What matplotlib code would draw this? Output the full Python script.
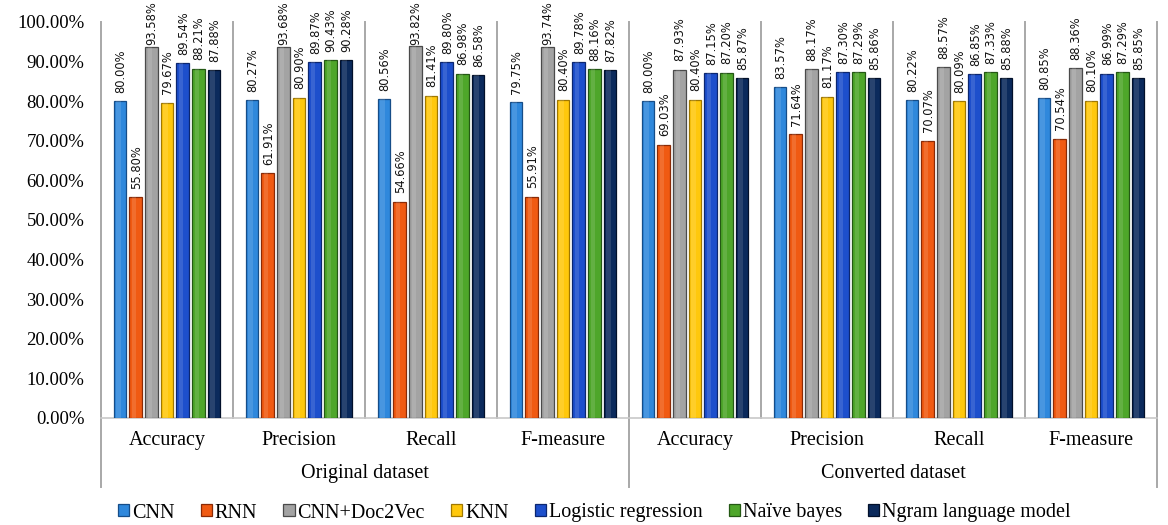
import matplotlib
matplotlib.use("Agg")
import matplotlib.pyplot as plt
import numpy as np

# ---- data ----
datasets = ["Original dataset", "Converted dataset"]
metrics = ["Accuracy", "Precision", "Recall", "F-measure"]
models = ["CNN", "RNN", "CNN+Doc2Vec", "KNN", "Logistic regression",
          "Naïve bayes", "Ngram language model"]

cnn      = [80.00, 80.27, 80.56, 79.75, 80.00, 83.57, 80.22, 80.85]
rnn      = [55.80, 61.91, 54.66, 55.91, 69.03, 71.64, 70.07, 70.54]
cnn_d2v  = [93.58, 93.68, 93.82, 93.74, 87.93, 88.17, 88.57, 88.36]
knn      = [79.67, 80.90, 81.41, 80.40, 80.40, 81.17, 80.09, 80.10]
logreg   = [89.54, 89.87, 89.80, 89.78, 87.15, 87.30, 86.85, 86.99]
nbayes   = [88.21, 90.43, 86.98, 88.16, 87.20, 87.29, 87.33, 87.29]
ngram    = [87.88, 90.28, 86.58, 87.82, 85.87, 85.86, 85.88, 85.85]

series = [cnn, rnn, cnn_d2v, knn, logreg, nbayes, ngram]
colors = ["#2f88dc", "#f05a12", "#a3a3a3", "#ffc80c", "#1d4fcc", "#4ea62a", "#0b2a5c"]
edges  = ["#164d88", "#8a2a05", "#4a4a4a", "#a07800", "#0c2770", "#245814", "#02102a"]

serif = "Liberation Serif"

fig = plt.figure(figsize=(11.68, 5.25), dpi=100)
ax = fig.add_axes([101 / 1168, 1 - 418 / 525, 1056 / 1168, 396 / 525])

n_groups = len(datasets) * len(metrics)
group_centers = np.arange(n_groups) + 0.5
step = 0.119
width = 0.096

annots = []
for j, (vals, c, ec) in enumerate(zip(series, colors, edges)):
    xs = group_centers + (j - 3) * step
    v = np.array(vals) / 100.0
    ax.bar(xs, v, width=width, color=c, edgecolor=ec, linewidth=0.9, zorder=3,
           label=models[j])
    # subtle highlight to mimic the glossy look
    ax.bar(xs - width * 0.12, v, width=width * 0.35, color="white", alpha=0.12,
           linewidth=0, zorder=4)
    for x, val in zip(xs, vals):
        a = ax.annotate(f"{val:.2f}%", xy=(x, val / 100.0), xytext=(0.5, 6),
                        textcoords="offset points", rotation=90, ha="center",
                        va="bottom", fontsize=8.3, family="DejaVu Sans",
                        color="#111111", annotation_clip=False)
        annots.append(a)

ax.set_xlim(0, n_groups)
ax.set_ylim(0, 1.0)
yt = np.arange(0, 1.01, 0.1)
ax.set_yticks(yt)
ax.set_yticklabels([f"{t * 100:.2f}%" for t in yt], family=serif, fontsize=13.5)
ax.tick_params(axis="y", length=0, pad=12)
ax.set_xticks([])
for s in ax.spines.values():
    s.set_visible(False)

line_c = "#a8a8a8"
# baseline
ax.plot([0, n_groups], [0, 0], color="#c8c8c8", lw=1.2, zorder=2, clip_on=False)
# separators
for k in range(n_groups + 1):
    bottom = -0.174 if k % len(metrics) == 0 else 0.0
    ax.plot([k, k], [1.0, bottom], color=line_c, lw=1.4, zorder=1, clip_on=False)

# category labels
for i, xc in enumerate(group_centers):
    ax.text(xc, -0.056, metrics[i % len(metrics)], ha="center", va="center",
            family=serif, fontsize=14.5, transform=ax.get_xaxis_transform())
for d, name in enumerate(datasets):
    ax.text(d * len(metrics) + len(metrics) / 2, -0.14, name, ha="center",
            va="center", family=serif, fontsize=14.5,
            transform=ax.get_xaxis_transform())

handles, labels = ax.get_legend_handles_labels()
leg = fig.legend(handles, labels, loc="center", bbox_to_anchor=(0.509, 1 - 513 / 525),
                 ncol=7, frameon=False, prop={"family": serif, "size": 14.5},
                 handlelength=0.55, handleheight=0.55, handletextpad=0.15,
                 columnspacing=1.3, borderaxespad=0)

# keep value labels inside the figure (like the reference, which pushes them down)
fig.canvas.draw()
renderer = fig.canvas.get_renderer()
fig_h = fig.bbox.height
for a in annots:
    bb = a.get_window_extent(renderer)
    over = bb.y1 - (fig_h - 1)
    if over > 0:
        ox, oy = a.xyann
        a.xyann = (ox, oy - over * 72.0 / fig.dpi)

fig.savefig("out.png", dpi=100)
